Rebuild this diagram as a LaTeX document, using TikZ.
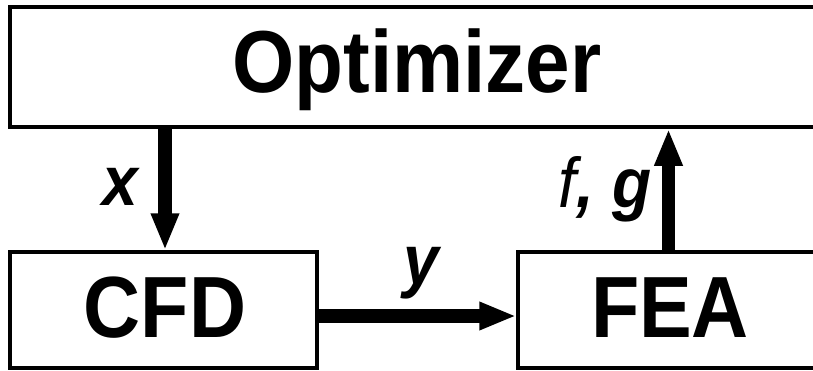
\documentclass[tikz,border=0pt]{standalone}
\usepackage{fontspec}
\setmainfont{Liberation Sans}
\usetikzlibrary{arrows.meta}
\newcommand{\vstretch}[1]{\scalebox{1}[1.1]{#1}}
\tikzset{
  box/.style={draw=black, line width=3.5pt, fill=white, rectangle, inner sep=0pt},
  bigtxt/.style={anchor=base, inner sep=0pt, font=\fontsize{79}{90}\selectfont\bfseries},
  lbl/.style={anchor=base, inner sep=0pt, font=\fontsize{64}{72}\selectfont\bfseries\itshape},
  arr/.style={line width=13.5pt, -{Triangle[width=26pt,length=37pt]}},
  harr/.style={line width=14pt, -{Triangle[width=26pt,length=37pt]}}
}
\begin{document}
\begin{tikzpicture}[x=1pt,y=-1pt]
\useasboundingbox (0,0) rectangle (813,370);
\clip (0,0) rectangle (813,370);
\fill[white] (0,0) rectangle (813,370);
% boxes
\node[box, minimum width=890pt, minimum height=120pt] (opt) at (455,67) {};
\node[box, minimum width=307pt, minimum height=116pt] (cfd) at (163.5,310) {};
\node[box, minimum width=482pt, minimum height=116pt] (fea) at (759,310) {};
% texts
\node[bigtxt, font=\fontsize{80}{90}\selectfont\bfseries] (optt) at (417,92) {\vstretch{Optimizer}};
\node[bigtxt] (cfdt) at (165,337) {\vstretch{CFD}};
\node[bigtxt] (feat) at (670,337) {\vstretch{FEA}};
% arrows
\draw[arr] (165,0 |- opt.south) -- (165,0 |- cfd.north);
\draw[arr] (668.5,0 |- fea.north) -- (668.5,0 |- opt.south);
\draw[harr] (cfd.east |- 0,316) -- (fea.west |- 0,316);
% labels
\node[lbl] (lx) at (120,205) {\vstretch{x}};
\node[lbl] (ly) at (421,284) {\vstretch{y}};
\node[lbl] (lfg) at (605,207) {\vstretch{{\mdseries f}, g}};
\end{tikzpicture}
\end{document}
